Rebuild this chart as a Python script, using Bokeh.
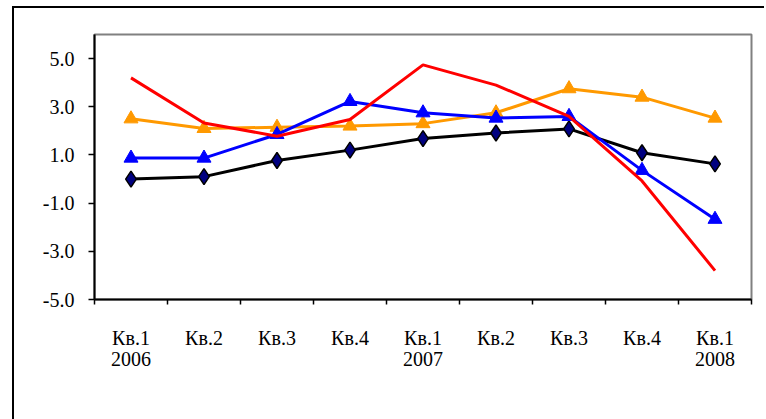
from bokeh.plotting import figure
from bokeh.models import (Range1d, FixedTicker, Legend, LegendItem, PrintfTickFormatter, LinearAxis)
from bokeh.embed import file_html
from bokeh.resources import INLINE

quarters = ["Кв.1", "Кв.2", "Кв.3", "Кв.4", "Кв.1", "Кв.2", "Кв.3", "Кв.4", "Кв.1"]
years = ["2006", "2007", "2008"]
year_positions = [0, 4, 8]
ecb = [0.0, 0.1, 0.77, 1.2, 1.68, 1.91, 2.08, 1.09, 0.63]
england = [2.5, 2.1, 2.15, 2.2, 2.3, 2.75, 3.75, 3.4, 2.53]
usa = [0.87, 0.87, 1.85, 3.22, 2.75, 2.53, 2.6, 0.36, -1.67]
macedonia = [4.2, 2.33, 1.78, 2.47, 4.74, 3.9, 2.6, -0.08, -3.8]
y_ticks = [-5, -3, -1, 1, 3, 5]

x = list(range(len(quarters)))
FONT = "Liberation Serif, Times New Roman, serif"

p = figure(frame_width=657, frame_height=265, output_backend="svg", toolbar_location=None,
           x_range=Range1d(-0.5, len(quarters) - 0.5), y_range=Range1d(-5, 6),
           min_border_left=80, min_border_top=26, min_border_right=13, min_border_bottom=0)
p.styles = {"margin-left": "12px", "margin-top": "6px",
            "border-left": "2px solid black", "border-top": "2px solid black"}

p.grid.visible = False
p.outline_line_color = "#808080"
p.outline_line_width = 2

p.xaxis.ticker = FixedTicker(ticks=x, minor_ticks=[i - 0.5 for i in range(len(quarters) + 1)])
p.xaxis.major_label_overrides = {i: q for i, q in enumerate(quarters)}
p.xaxis.major_tick_line_color = None
p.xaxis.major_tick_out = 0
p.xaxis.minor_tick_out = 5
p.xaxis.minor_tick_in = 0
p.xaxis.minor_tick_line_color = "black"
p.xaxis.minor_tick_line_width = 1.5
p.xaxis.major_label_standoff = 22
p.xaxis.axis_line_color = "black"
p.xaxis.axis_line_width = 2

year_axis = LinearAxis(ticker=FixedTicker(ticks=year_positions),
                       major_label_overrides={pos: yr for pos, yr in zip(year_positions, years)})
year_axis.axis_line_color = None
year_axis.major_tick_line_color = None
year_axis.minor_tick_line_color = None
year_axis.major_tick_out = 0
year_axis.major_label_standoff = 0
p.add_layout(year_axis, "below")

p.yaxis.ticker = FixedTicker(ticks=y_ticks)
p.yaxis.formatter = PrintfTickFormatter(format="%.1f")
p.yaxis.major_tick_out = 6
p.yaxis.major_tick_in = 0
p.yaxis.minor_tick_line_color = None
p.yaxis.major_tick_line_width = 1.5
p.yaxis.axis_line_width = 2
p.yaxis.major_label_standoff = 14

for ax in (p.xaxis[0], year_axis, p.yaxis[0]):
    ax.major_label_text_font = FONT
    ax.major_label_text_font_size = "20px"
    ax.major_label_text_color = "black"

r_ecb = p.line(x, ecb, color="black", line_width=3)
s_ecb = p.scatter(x, ecb, marker="diamond", size=16, fill_color="#000080", line_color="black", line_width=1.5)
r_eng = p.line(x, england, color="#FF9900", line_width=3)
s_eng = p.scatter(x, england, marker="triangle", size=14, fill_color="#FF9900", line_color="#FF9900")
r_usa = p.line(x, usa, color="#0000FF", line_width=3)
s_usa = p.scatter(x, usa, marker="triangle", size=14, fill_color="#0000FF", line_color="#0000FF")
r_mk = p.line(x, macedonia, color="#FF0000", line_width=3)

legend = Legend(items=[
    LegendItem(label="ЕЦБ", renderers=[r_ecb, s_ecb]),
    LegendItem(label="Англија", renderers=[r_eng, s_eng]),
    LegendItem(label="САД", renderers=[r_usa, s_usa]),
    LegendItem(label="Македонија", renderers=[r_mk]),
], orientation="horizontal", location=(52, 72))
legend.label_text_font = FONT
legend.label_text_font_size = "20px"
legend.border_line_alpha = 0
legend.background_fill_alpha = 0
legend.glyph_width = 47
legend.glyph_height = 20
legend.label_height = 20
legend.label_standoff = 9
legend.spacing = 16
legend.margin = 0
legend.padding = 2
p.add_layout(legend, "below")

open("out.html", "w").write(file_html(p, INLINE))
